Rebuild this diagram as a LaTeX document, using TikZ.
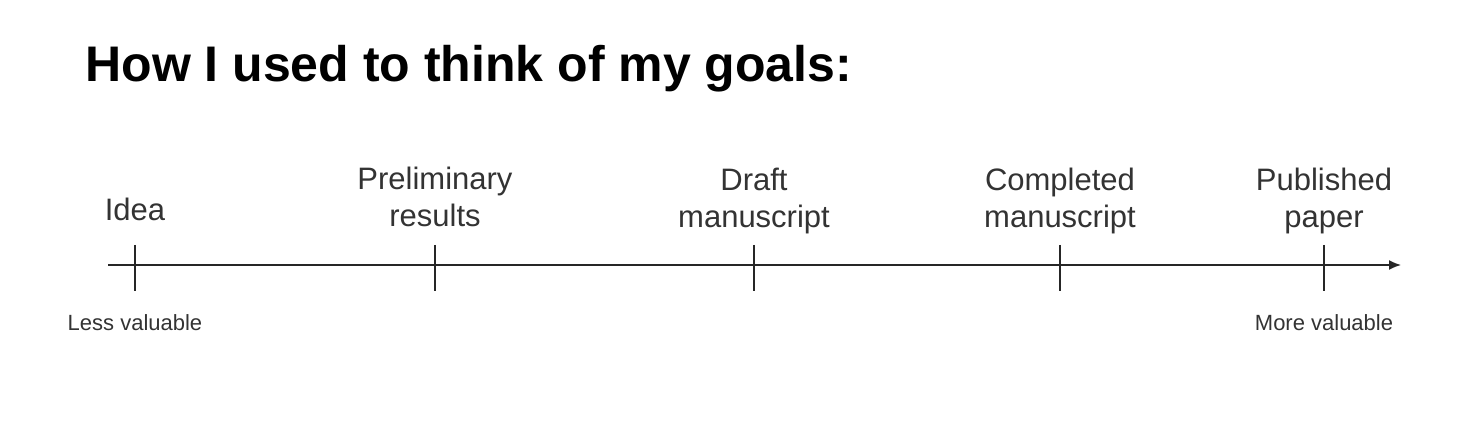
\documentclass[tikz,border=0pt]{standalone}
\usepackage{fontspec}
\setmainfont{Liberation Sans}
\usepackage{xcolor}
\usepackage{tikz}
\usetikzlibrary{arrows.meta}

\definecolor{labelgray}{gray}{0.2}

\begin{document}
\begin{tikzpicture}[x=0.5pt,y=-0.5pt,
    label/.style={text=labelgray,align=center,inner sep=0pt,font=\fontsize{15.5}{18.5}\selectfont},
    small/.style={text=labelgray,inner sep=0pt,font=\fontsize{11}{13}\selectfont},
    tick/.style={thick,color=black!85}]
  \useasboundingbox[fill=white] (0,0) rectangle (1482,422);

  % title
  \node[anchor=base west,inner sep=0pt,font=\fontsize{25}{30}\selectfont\bfseries] (title) at (85,82) {How I used to think of my goals:};

  % axis
  \coordinate (start) at (108,265);
  \coordinate (end) at (1401,265);
  \draw[thick,color=black!85,-{Latex[length=6pt,width=5pt]}] (start) -- (end);

  % ticks
  \draw[tick] (135,245) -- (135,291);
  \draw[tick] (435,245) -- (435,291);
  \draw[tick] (754,245) -- (754,291);
  \draw[tick] (1060,245) -- (1060,291);
  \draw[tick] (1324,245) -- (1324,291);

  % milestones
  \node[label] (idea) at (135,209) {Idea};
  \node[label] (prelim) at (435,197) {Preliminary\\results};
  \node[label] (draft) at (754,201) {Draft\\manuscript};
  \node[label] (complete) at (1060,201) {Completed\\manuscript};
  \node[label] (published) at (1324,201) {Published\\paper};

  % value ends
  \node[small] (less) at (135,323) {Less valuable};
  \node[small] (more) at (1324,323) {More valuable};
\end{tikzpicture}
\end{document}
